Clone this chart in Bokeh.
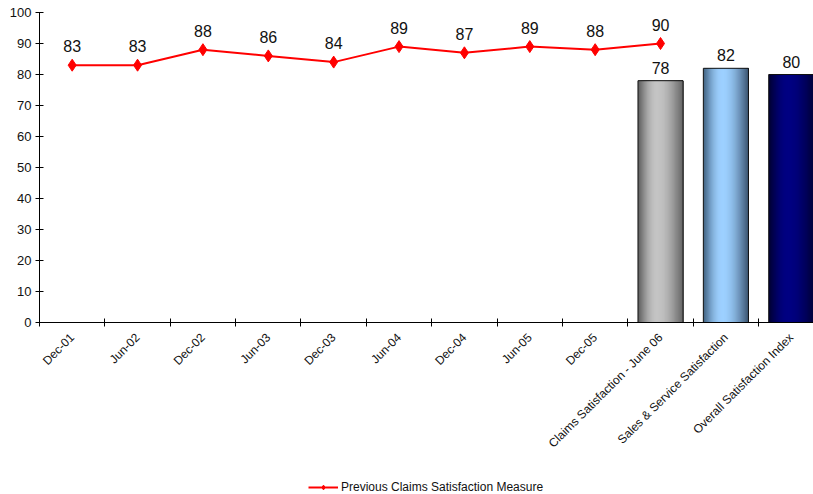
import math
import numpy as np
from bokeh.plotting import figure
from bokeh.layouts import column
from bokeh.models import (ColumnDataSource, FixedTicker, Range1d, Legend,
                          LegendItem)
from bokeh.core.properties import value
from bokeh.embed import file_html
from bokeh.resources import INLINE

# --- data -----------------------------------------------------------------
categories = ["Dec-01", "Jun-02", "Dec-02", "Jun-03", "Dec-03", "Jun-04",
              "Dec-04", "Jun-05", "Dec-05", "Claims Satisfaction - June 06",
              "Sales & Service Satisfaction", "Overall Satisfaction Index"]
previous_claims = [83, 83, 88, 86, 84, 89, 87, 89, 88, 90]
bar_labels = ["Claims Satisfaction - June 06", "Sales & Service Satisfaction",
              "Overall Satisfaction Index"]
bar_values = [78, 82, 80]
y_ticks = list(range(0, 101, 10))
series_name = "Previous Claims Satisfaction Measure"

FONT = "Liberation Sans"
RED = "#ff0000"

# category centres on a numeric axis (one unit per category)
centers = [i + 0.5 for i in range(len(categories))]
line_x = centers[:len(previous_claims)]
bar_x = [centers[categories.index(c)] for c in bar_labels]

p = figure(width=813, height=478, output_backend="svg", toolbar_location=None,
           x_range=Range1d(0, 11.84), y_range=Range1d(0, 100),
           min_border_left=39, min_border_right=0, min_border_top=12,
           min_border_bottom=156)
p.outline_line_color = None
p.xgrid.grid_line_color = None
p.ygrid.grid_line_color = None
p.background_fill_color = "white"
p.border_fill_color = "white"

# --- cylinder-shaded bars (strips shaded across the width) -----------------
bar_width = 0.69
n_strips = 40
shades = [("#5a5a5a", "#c4c4c4", "#636363"),
          ("#40607f", "#9dd0ff", "#3a5470"),
          ("#000030", "#000082", "#000038")]


def hex_rgb(h):
    h = h.lstrip("#")
    return np.array([int(h[i:i + 2], 16) for i in (0, 2, 4)], dtype=float)


def shade(edge_l, mid, edge_r, t, peak=0.42):
    a, b, c = hex_rgb(edge_l), hex_rgb(mid), hex_rgb(edge_r)
    if t <= peak:
        s = t / peak
        rgb = a + (b - a) * math.sin(s * math.pi / 2)
    else:
        s = (t - peak) / (1 - peak)
        rgb = b + (c - b) * (1 - math.cos(s * math.pi / 2))
    return "#%02x%02x%02x" % tuple(int(round(v)) for v in rgb)


sx, stop, scol, sw = [], [], [], []
strip_w = bar_width / n_strips
for xc, v, (l, m, r) in zip(bar_x, bar_values, shades):
    for k in range(n_strips):
        t = (k + 0.5) / n_strips
        # each strip spreads to the bar's right edge so seams are covered
        left = xc - bar_width / 2 + k * strip_w
        right = xc + bar_width / 2
        sx.append((left + right) / 2)
        sw.append(right - left)
        stop.append(v)
        scol.append(shade(l, m, r, t))
p.vbar(x="x", top="top", bottom=0, width="w", fill_color="c",
       line_color=None,
       source=ColumnDataSource(dict(x=sx, top=stop, c=scol, w=sw)))

bar_src = ColumnDataSource(dict(x=bar_x, top=bar_values,
                                lab=[str(v) for v in bar_values]))
p.vbar(x="x", top="top", bottom=0, width=bar_width, fill_color=None,
       line_color="#111111", line_width=1, source=bar_src)
p.text(x="x", y="top", text="lab", source=bar_src, text_align="center",
       text_baseline="bottom", y_offset=-7, text_font=value(FONT),
       text_font_size="16px", text_color="#111111")

# --- previous measure line ------------------------------------------------
line_src = ColumnDataSource(dict(x=line_x, y=previous_claims,
                                 lab=[str(v) for v in previous_claims]))
p.line("x", "y", source=line_src, line_color=RED, line_width=2)
p.scatter("x", "y", source=line_src, marker="diamond", size=12,
          fill_color=RED, line_color=RED)
p.text(x="x", y="y", text="lab", source=line_src, text_align="center",
       text_baseline="bottom", y_offset=-13, text_font=value(FONT),
       text_font_size="16px", text_color="#111111")

# --- axes -----------------------------------------------------------------
xa = p.xaxis[0]
xa.ticker = FixedTicker(ticks=centers, minor_ticks=list(range(0, 13)))
xa.major_label_overrides = {c: lab for c, lab in zip(centers, categories)}
xa.major_label_orientation = math.pi / 4
xa.major_tick_in = 0
xa.major_tick_out = 0
xa.minor_tick_in = 4
xa.minor_tick_out = 4
xa.minor_tick_line_color = "black"
xa.axis_line_color = "black"
xa.major_label_text_font = FONT
xa.major_label_text_font_size = "12px"
xa.major_label_text_color = "#111111"
xa.major_label_standoff = 9

ya = p.yaxis[0]
ya.ticker = FixedTicker(ticks=y_ticks, minor_ticks=[])
ya.major_tick_in = 4
ya.major_tick_out = 4
ya.major_tick_line_color = "black"
ya.axis_line_color = "black"
ya.major_label_text_font = FONT
ya.major_label_text_font_size = "13px"
ya.major_label_text_color = "#111111"
ya.major_label_standoff = 4

# --- legend strip under the chart ------------------------------------------
# the key renderers share the series data but sit outside this strip's view
lg = figure(width=813, height=16, output_backend="svg", toolbar_location=None,
            x_axis_location=None, y_axis_location=None,
            x_range=Range1d(-2, -1), y_range=Range1d(-2, -1),
            min_border_left=0, min_border_right=0, min_border_top=0,
            min_border_bottom=0)
lg.outline_line_color = None
lg.xgrid.grid_line_color = None
lg.ygrid.grid_line_color = None
key_line = lg.line("x", "y", source=line_src, line_color=RED, line_width=2)
key_mark = lg.scatter("x", "y", source=line_src, marker="diamond", size=10,
                      fill_color=RED, line_color=RED)
legend = Legend(items=[LegendItem(label=series_name,
                                  renderers=[key_line, key_mark])],
                location=(269, 0), orientation="horizontal",
                label_text_font=FONT, label_text_font_size="12px",
                label_text_color="#111111", glyph_width=30, glyph_height=12,
                label_height=12, border_line_color=None,
                background_fill_alpha=0, padding=2, margin=0,
                label_standoff=3)
lg.add_layout(legend, "center")

layout = column(p, lg, spacing=0)
open("out.html", "w").write(file_html(layout, INLINE))
